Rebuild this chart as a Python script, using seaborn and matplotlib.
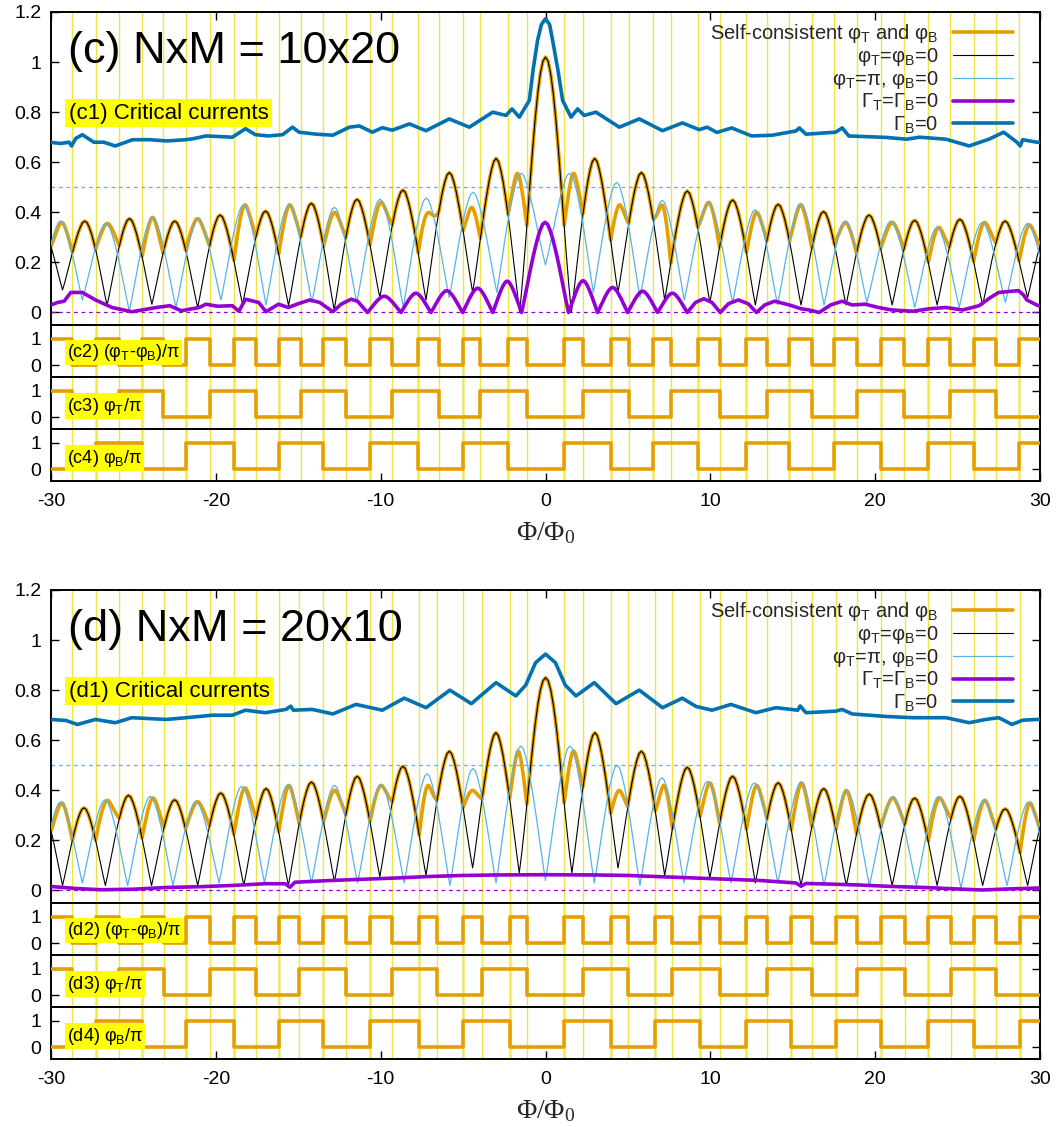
import numpy as np
import matplotlib
matplotlib.use("Agg")
import matplotlib.pyplot as plt
from matplotlib.lines import Line2D
import seaborn as sns

# ====================== DATA ======================
x_limits = [-30, 30]
ytick_main = [0, 0.2, 0.4, 0.6, 0.8, 1.0, 1.2]
ytick_main_labels = ["0", "0.2", "0.4", "0.6", "0.8", "1", "1.2"]
xtick_vals = [-30, -20, -10, 0, 10, 20, 30]
xtick_labels = ["-30", "-20", "-10", "0", "10", "20", "30"]

# shape of a side lobe and of the central lobe (relative height across one lobe)
lobe_profile = [0.0, 0.12, 0.25, 0.38, 0.51, 0.63, 0.74, 0.84, 0.92, 0.98, 1.0,
                0.98, 0.92, 0.84, 0.74, 0.63, 0.51, 0.38, 0.25, 0.12, 0.0]
center_profile = [0.0, 0.109, 0.234, 0.368, 0.505, 0.637, 0.757, 0.858, 0.935, 0.984, 1.0,
                  0.984, 0.935, 0.858, 0.757, 0.637, 0.505, 0.368, 0.234, 0.109, 0.0]

# ---------- panel (c) NxM = 10x20 ----------
c_black_zeros = [-32.05, -29.3, -26.6, -23.88, -21.1, -18.38, -15.59, -12.82, -10.05, -7.25, -4.42, -1.57,
                 1.57, 4.4, 7.23, 9.97, 12.73, 15.5, 18.23, 21.03, 23.76, 26.52, 29.25, 32.0]
c_black_peaks = [0.36, 0.365, 0.375, 0.365, 0.389, 0.405, 0.436, 0.452, 0.489, 0.559, 0.615, 1.02,
                 0.615, 0.559, 0.485, 0.449, 0.432, 0.403, 0.389, 0.368, 0.372, 0.365, 0.36]
c_black_mins = [0.1, 0.09, 0.028, 0.033, 0.02, 0.033, 0.028, 0.01, 0.06, 0.05, 0.08, 0.0,
                0.0, 0.08, 0.05, 0.04, 0.03, 0.03, 0.03, 0.03, 0.03, 0.03, 0.06, 0.1]

c_blue_zeros = [-30.75, -28.1, -25.25, -22.42, -19.69, -16.96, -14.17, -11.45, -8.63, -5.84, -2.95, 0.0,
                2.9, 5.73, 8.42, 11.35, 14.08, 16.9, 19.5, 22.4, 25.1, 27.9, 30.6]
c_blue_peaks = [0.365, 0.356, 0.382, 0.373, 0.43, 0.43, 0.42, 0.453, 0.457, 0.48, 0.556,
                0.556, 0.519, 0.448, 0.44, 0.41, 0.436, 0.365, 0.365, 0.34, 0.36, 0.356]
c_blue_mins = [0.05, 0.05, 0.005, 0.02, 0.05, 0.03, 0.04, 0.04, 0.02, 0.06, 0.08, 0.19,
               0.08, 0.06, 0.05, 0.04, 0.03, 0.03, 0.04, 0.02, 0.02, 0.04, 0.05]

# self-consistent curve: peak of each (phiT-phiB)=pi segment
c_orange_pi_peaks = [0.36, 0.356, 0.38, 0.375, 0.43, 0.43, 0.40, 0.44, 0.40, 0.42, 0.556,
                     0.556, 0.43, 0.43, 0.44, 0.40, 0.43, 0.36, 0.36, 0.34, 0.36, 0.35]

c_purple_left_x = [-30, -29.6, -29.2, -28.8, -28.1, -27.3, -26.3, -25.1, -23.6, -22.8, -22.1, -21.0, -20.6,
                   -19.9, -19.0, -18.6, -18.2, -17.4, -16.96, -16.2, -15.6, -15.0, -14.3, -13.7, -12.9,
                   -12.4, -11.8, -11.4]
c_purple_left_y = [0.03, 0.04, 0.045, 0.08, 0.08, 0.05, 0.02, 0.003, 0.02, 0.027, 0.007, 0.02, 0.033,
                   0.025, 0.027, 0.005, 0.053, 0.04, 0.003, 0.033, 0.02, 0.035, 0.05, 0.04, 0.003,
                   0.033, 0.053, 0.045]
c_purple_mid_zeros = [-10.8, -8.77, -6.95, -5.03, -3.2, -1.45, 1.4, 3.16, 4.98, 6.8, 8.6]
c_purple_mid_peaks = [0.065, 0.077, 0.087, 0.097, 0.125, 0.36, 0.127, 0.1, 0.085, 0.077]
c_purple_right_x = [9.1, 9.6, 10.1, 10.6, 11.1, 11.7, 12.3, 12.8, 13.3, 13.9, 14.8, 15.5, 16.0, 16.6,
                    17.3, 18.0, 18.6, 19.4, 20.2, 21.0, 22.3, 23.3, 24.3, 25.3, 26.3, 27.0, 27.5, 28.3,
                    28.7, 29.0, 29.2, 29.8, 30.0]
c_purple_right_y = [0.04, 0.055, 0.04, 0.0, 0.035, 0.05, 0.035, 0.0, 0.03, 0.045, 0.03, 0.015, 0.01, 0.0,
                    0.03, 0.045, 0.03, 0.033, 0.02, 0.01, 0.005, 0.015, 0.02, 0.01, 0.027, 0.06, 0.08, 0.085,
                    0.087, 0.07, 0.05, 0.03, 0.025]

c_gb_x = [-30, -29.4, -28.9, -28.75, -28.5, -28.1, -27.4, -26.8, -26.1, -25.05, -24.0, -23.0, -21.8, -21.3,
          -20.6, -19.0, -18.2, -17.6, -16.8, -15.95, -15.35, -14.95, -13.9, -12.9, -11.9, -11.3, -10.5,
          -9.9, -9.3, -8.26, -7.25, -5.84, -4.62, -3.2, -2.4, -2.03, -1.59, -0.98, -0.75, -0.48, -0.25, 0,
          0.25, 0.43, 0.75, 1.04, 1.55, 1.95, 2.35, 3.06, 4.48, 5.69, 7.1, 8.3, 9.33, 9.8, 10.4, 11.3,
          12.5, 13.76, 15.2, 15.4, 15.8, 17.6, 18.0, 18.4, 20.7, 21.9, 22.7, 24.3, 25.7, 26.9, 27.8, 28.6,
          28.8, 28.95, 29.8, 30]
c_gb_y = [0.679, 0.675, 0.68, 0.665, 0.695, 0.71, 0.68, 0.68, 0.665, 0.69, 0.69, 0.685, 0.69, 0.695,
          0.705, 0.70, 0.734, 0.71, 0.705, 0.71, 0.74, 0.72, 0.712, 0.708, 0.74, 0.745, 0.72,
          0.738, 0.728, 0.753, 0.726, 0.773, 0.74, 0.8, 0.787, 0.813, 0.78, 0.847, 0.97, 1.087, 1.15, 1.173,
          1.15, 1.087, 0.97, 0.847, 0.78, 0.813, 0.787, 0.8, 0.74, 0.773, 0.726, 0.757, 0.73, 0.74, 0.719,
          0.737, 0.705, 0.708, 0.725, 0.737, 0.712, 0.72, 0.737, 0.705, 0.699, 0.692, 0.70, 0.692, 0.665,
          0.692, 0.72, 0.68, 0.665, 0.69, 0.68, 0.68]

c_phiT_start = 1
c_phiT_switch = [-28.7, -25.85, -23.2, -20.38, -17.55, -14.83, -12.11, -9.29, -6.46, -3.95, -1.13,
                 2.28, 5.05, 7.6, 10.56, 13.44, 16.16, 18.87, 21.75, 24.51, 27.33]
c_phiB_start = 0
c_phiB_switch = [-27.3, -24.48, -21.84, -18.91, -16.19, -13.47, -10.65, -7.72, -5.0, -2.28,
                 1.13, 3.95, 6.51, 9.23, 12.19, 14.80, 17.52, 20.33, 23.22, 25.97, 28.73]
c_diff_start = 1

# ---------- panel (d) NxM = 20x10 ----------
d_black_zeros = [-32.05, -29.3, -26.7, -23.9, -21.1, -18.3, -15.6, -12.8, -10.05, -7.25, -4.42, -1.59,
                 1.6, 4.4, 7.23, 9.97, 12.73, 15.5, 18.25, 21.03, 23.76, 26.52, 29.25, 32.0]
d_black_peaks = [0.35, 0.33, 0.38, 0.362, 0.389, 0.407, 0.433, 0.456, 0.496, 0.556, 0.63, 0.85,
                 0.63, 0.556, 0.492, 0.456, 0.43, 0.407, 0.385, 0.369, 0.376, 0.326, 0.35]
d_black_mins = [0.1, 0.02, 0.02, 0.02, 0.02, 0.02, 0.02, 0.035, 0.055, 0.06, 0.09, 0.07,
                0.07, 0.09, 0.06, 0.05, 0.03, 0.02, 0.02, 0.02, 0.02, 0.02, 0.02, 0.1]

d_blue_zeros = [-30.75, -28.1, -25.35, -22.6, -19.8, -17.05, -14.2, -11.4, -8.57, -5.8, -3.0, 0.0,
                2.96, 5.73, 8.4, 11.25, 14.1, 16.9, 19.65, 22.5, 25.2, 28.0, 30.6]
d_blue_peaks = [0.353, 0.362, 0.376, 0.356, 0.416, 0.423, 0.42, 0.423, 0.466, 0.487, 0.577,
                0.577, 0.5, 0.45, 0.436, 0.43, 0.433, 0.402, 0.376, 0.376, 0.362, 0.353]
d_blue_mins = [0.03, 0.03, 0.02, 0.02, 0.03, 0.03, 0.03, 0.03, 0.03, 0.02, 0.03, 0.04,
               0.03, 0.02, 0.03, 0.03, 0.03, 0.02, 0.02, 0.02, 0.01, 0.02, 0.03]

d_orange_pi_peaks = [0.35, 0.36, 0.37, 0.355, 0.41, 0.42, 0.40, 0.42, 0.42, 0.40, 0.557,
                     0.557, 0.40, 0.42, 0.43, 0.42, 0.43, 0.40, 0.37, 0.37, 0.36, 0.35]

d_purple_x = [-30, -28.5, -27, -25, -23, -21, -19, -17, -15.8, -15.5, -15.2, -13, -11, -9, -7, -5, -3, 0,
              3, 5, 7, 9, 11, 13, 15.2, 15.5, 15.8, 17, 19, 21, 23, 25, 26.5, 28, 30]
d_purple_y = [0.016, 0.008, 0.003, 0.005, 0.012, 0.015, 0.02, 0.027, 0.027, 0.013, 0.033, 0.04, 0.045,
              0.05, 0.056, 0.06, 0.062, 0.063, 0.062, 0.06, 0.055, 0.05, 0.045, 0.04, 0.03, 0.017, 0.028,
              0.026, 0.022, 0.016, 0.012, 0.006, 0.002, 0.006, 0.01]

d_gb_x = [-30, -29.1, -28.4, -27.3, -26.1, -25.1, -23.0, -21.8, -20.2, -19.0, -18.2, -17.0, -15.75, -15.45,
          -15.3, -14.15, -12.9, -11.5, -9.9, -8.57, -7.25, -5.8, -4.5, -3.0, -1.8, -1.2, -0.6, 0, 0.6, 1.2,
          1.85, 2.96, 4.28, 5.69, 7.1, 8.3, 9.13, 10.1, 11.25, 12.77, 13.98, 15.3, 15.45, 15.8, 17.6, 18.0,
          18.6, 20.65, 22.25, 24.3, 25.7, 26.7, 27.5, 28.3, 28.95, 29.8, 30]
d_gb_y = [0.683, 0.679, 0.663, 0.683, 0.67, 0.69, 0.683, 0.69, 0.70, 0.70, 0.72, 0.71, 0.723, 0.736,
          0.72, 0.723, 0.705, 0.743, 0.72, 0.768, 0.73, 0.80, 0.746, 0.83, 0.777, 0.82, 0.91, 0.944, 0.91,
          0.82, 0.777, 0.83, 0.746, 0.80, 0.73, 0.768, 0.735, 0.72, 0.743, 0.71, 0.73, 0.72, 0.737, 0.71,
          0.716, 0.723, 0.705, 0.695, 0.69, 0.69, 0.67, 0.683, 0.69, 0.663, 0.68, 0.683, 0.683]

d_phiT_start = 1
d_phiT_switch = [-28.7, -25.85, -23.14, -20.38, -17.55, -14.94, -12.11, -9.29, -6.57, -3.85, -1.13,
                 2.28, 4.99, 7.70, 10.56, 13.44, 16.16, 18.87, 21.80, 24.61, 27.33]
d_phiB_start = 0
d_phiB_switch = [-27.3, -24.48, -21.84, -18.91, -16.19, -13.47, -10.65, -7.66, -5.0, -2.18,
                 1.13, 3.95, 6.66, 9.37, 12.19, 14.91, 17.62, 20.33, 23.22, 25.97, 28.79]
d_diff_start = 1

legend_labels = ["Self-consistent φ$_T$ and φ$_B$", "φ$_T$=φ$_B$=0", "φ$_T$=π, φ$_B$=0",
                 "Γ$_T$=Γ$_B$=0", "Γ$_B$=0"]

# ====================== STYLE ======================
ORANGE = "#E69F00"
BLACK = "#000000"
LBLUE = "#56B4E9"
PURPLE = "#9400D3"
DBLUE = "#0072B2"
YELLOW = "#F0E442"
LABEL_BG = "#FFFF00"

sns.set_theme(style="white")
plt.rcParams["font.family"] = ["Liberation Sans", "DejaVu Sans"]
plt.rcParams["mathtext.default"] = "regular"

W, H = 1058, 1127
fig = plt.figure(figsize=(W / 100, H / 100), dpi=100)
LEFT_PX, RIGHT_PX = 51, 1040


def add_ax(top_px, bottom_px):
    return fig.add_axes([LEFT_PX / W, 1 - bottom_px / H, (RIGHT_PX - LEFT_PX) / W, (bottom_px - top_px) / H])


def lobe_curve(zeros, peaks, mins, center_index=None):
    u = np.linspace(0, 1, len(lobe_profile))
    xs, ys = [], []
    for i in range(len(peaks)):
        prof = np.asarray(center_profile if i == center_index else lobe_profile)
        z0, z1 = zeros[i], zeros[i + 1]
        m = mins[i] + (mins[i + 1] - mins[i]) * u
        xs.append(z0 + (z1 - z0) * u[:-1])
        ys.append(m[:-1] + (peaks[i] - m[:-1]) * prof[:-1])
    xs.append(np.array([zeros[-1]]))
    ys.append(np.array([mins[-1]]))
    return np.concatenate(xs), np.concatenate(ys)


def orange_curve(xg, bx, by, diff_sw, diff_start, pi_peaks):
    """Self-consistent curve: black curve where phiT-phiB=0, own arches where it is pi."""
    y = np.interp(xg, bx, by)
    edges = [x_limits[0]] + list(diff_sw) + [x_limits[1]]
    up = np.linspace(0, 1, len(lobe_profile))
    k = 0
    for i in range(len(edges) - 1):
        if (diff_start + i) % 2 == 1:
            a, b = edges[i], edges[i + 1]
            m = (xg >= a) & (xg <= b)
            u = (xg[m] - a) / (b - a)
            va, vb = np.interp(a, bx, by), np.interp(b, bx, by)
            base = va + (vb - va) * u
            prof = np.interp(u, up, lobe_profile)
            y[m] = base + (pi_peaks[k] - base) * prof
            k += 1
    return y


def step_xy(switches, start):
    xs = [x_limits[0]] + list(switches) + [x_limits[1]]
    vals = [(start + i) % 2 for i in range(len(switches) + 1)]
    vals = vals + [vals[-1]]
    return np.array(xs, float), np.array(vals, float)


def style_ax(ax, ylim, yticks, ylabels, xticks_top=False, xticks_bottom=False):
    ax.set_xlim(*x_limits)
    ax.set_ylim(*ylim)
    for s in ax.spines.values():
        s.set_color("black")
        s.set_linewidth(1.4)
    ax.set_yticks(yticks)
    ax.set_yticklabels(ylabels)
    ax.set_xticks(xtick_vals)
    ax.set_xticklabels(xtick_labels)
    ax.tick_params(axis="y", direction="in", length=6, width=1, left=True, right=True,
                   labelleft=True, labelright=False, labelsize=14, pad=7, colors="black")
    ax.tick_params(axis="x", direction="in", length=6, width=1, top=xticks_top, bottom=xticks_bottom,
                   labeltop=False, labelbottom=xticks_bottom, labelsize=14, pad=9, colors="black")
    ax.set_xlabel("")
    ax.set_ylabel("")
    ax.grid(False)


def yellow_lines(ax, sw_a, sw_b, light=False):
    for x in list(sw_a) + list(sw_b):
        ax.axvline(x, color=YELLOW, lw=1.0, zorder=0.5)
    if light:
        for x in sw_b:
            ax.axvline(x, color=YELLOW, lw=2.5, alpha=0.45, zorder=0.4)


def draw_panel(letter, size_txt, top_px, d):
    main_top, main_bot = top_px, top_px + 313
    ax1 = add_ax(main_top, main_bot)
    sub_h = 52
    axs = [add_ax(main_bot + i * sub_h, main_bot + (i + 1) * sub_h) for i in range(3)]

    bx, by = lobe_curve(d["black_zeros"], d["black_peaks"], d["black_mins"], center_index=11)
    ux, uy = lobe_curve(d["blue_zeros"], d["blue_peaks"], d["blue_mins"])
    diff_sw = sorted(list(d["phiT_sw"]) + list(d["phiB_sw"]))
    xg = np.linspace(x_limits[0], x_limits[1], 6001)
    orange = orange_curve(xg, bx, by, diff_sw, d["diff_start"], d["orange_pi"])

    yellow_lines(ax1, d["phiT_sw"], d["phiB_sw"])
    ax1.axhline(0.5, color=LBLUE, lw=0.9, ls=(0, (3, 3)), zorder=1)
    ax1.axhline(0.0, color=PURPLE, lw=0.9, ls=(0, (3, 3)), zorder=1)

    sns.lineplot(x=xg, y=orange, ax=ax1, color=ORANGE, lw=2.6, estimator=None, sort=False, zorder=3)
    sns.lineplot(x=bx, y=by, ax=ax1, color=BLACK, lw=0.8, estimator=None, sort=False, zorder=4)
    sns.lineplot(x=ux, y=uy, ax=ax1, color=LBLUE, lw=0.9, estimator=None, sort=False, zorder=4)
    sns.lineplot(x=d["purple_x"], y=d["purple_y"], ax=ax1, color=PURPLE, lw=2.6,
                 estimator=None, sort=False, zorder=5)
    sns.lineplot(x=d["gb_x"], y=d["gb_y"], ax=ax1, color=DBLUE, lw=2.6, estimator=None, sort=False, zorder=6)

    style_ax(ax1, (-0.05, 1.2), ytick_main, ytick_main_labels, xticks_top=True)
    ax1.text(0.017, 0.875, f"({letter}) NxM = {size_txt}", transform=ax1.transAxes, fontsize=32.5,
             va="center", ha="left", color="black", zorder=10)
    ax1.text(0.018, 0.677, f"({letter}1) Critical currents", transform=ax1.transAxes, fontsize=16,
             va="center", ha="left", color="black", zorder=10,
             bbox=dict(facecolor=LABEL_BG, edgecolor="none", pad=2.5))

    handles = [Line2D([], [], color=ORANGE, lw=2.6), Line2D([], [], color=BLACK, lw=0.8),
               Line2D([], [], color=LBLUE, lw=0.9), Line2D([], [], color=PURPLE, lw=2.6),
               Line2D([], [], color=DBLUE, lw=2.6)]
    leg = ax1.legend(handles, legend_labels, loc="upper right", bbox_to_anchor=(0.973, 0.968),
                     frameon=False, markerfirst=False, fontsize=14.5, handlelength=3.0,
                     handletextpad=0.7, labelspacing=0.05, borderaxespad=0, borderpad=0)
    leg.set_zorder(10)

    step_sets = [(diff_sw, d["diff_start"], f"({letter}2) (φ$_T$-φ$_B$)/π", 0.47),
                 (d["phiT_sw"], d["phiT_start"], f"({letter}3) φ$_T$/π", 0.44),
                 (d["phiB_sw"], d["phiB_start"], f"({letter}4) φ$_B$/π", 0.44)]
    for i, (ax, (sw, s0, lab, ly)) in enumerate(zip(axs, step_sets)):
        yellow_lines(ax, d["phiT_sw"], d["phiB_sw"], light=True)
        sx, sy = step_xy(sw, s0)
        sns.lineplot(x=sx, y=sy, ax=ax, color=ORANGE, lw=2.6, estimator=None, sort=False,
                     drawstyle="steps-post", zorder=3)
        style_ax(ax, (-0.45, 1.52), [0, 1], ["0", "1"], xticks_bottom=(i == 2))
        ax.text(0.016, ly, lab, transform=ax.transAxes, fontsize=13, va="center", ha="left",
                color="black", zorder=10, bbox=dict(facecolor=LABEL_BG, edgecolor="none", pad=1.5))
    axs[2].set_xlabel("Φ/Φ$_0$", fontsize=20, family=["Liberation Serif", "DejaVu Serif"], labelpad=7)
    return ax1, axs


panel_c = dict(black_zeros=c_black_zeros, black_peaks=c_black_peaks, black_mins=c_black_mins,
               blue_zeros=c_blue_zeros, blue_peaks=c_blue_peaks, blue_mins=c_blue_mins,
               orange_pi=c_orange_pi_peaks, gb_x=c_gb_x, gb_y=c_gb_y,
               phiT_sw=c_phiT_switch, phiT_start=c_phiT_start,
               phiB_sw=c_phiB_switch, phiB_start=c_phiB_start, diff_start=c_diff_start)
pm_x, pm_y = lobe_curve(c_purple_mid_zeros, c_purple_mid_peaks, [0.0] * len(c_purple_mid_zeros))
panel_c["purple_x"] = np.concatenate([c_purple_left_x, pm_x, c_purple_right_x])
panel_c["purple_y"] = np.concatenate([c_purple_left_y, pm_y, c_purple_right_y])

panel_d = dict(black_zeros=d_black_zeros, black_peaks=d_black_peaks, black_mins=d_black_mins,
               blue_zeros=d_blue_zeros, blue_peaks=d_blue_peaks, blue_mins=d_blue_mins,
               orange_pi=d_orange_pi_peaks, purple_x=d_purple_x, purple_y=d_purple_y, gb_x=d_gb_x, gb_y=d_gb_y,
               phiT_sw=d_phiT_switch, phiT_start=d_phiT_start,
               phiB_sw=d_phiB_switch, phiB_start=d_phiB_start, diff_start=d_diff_start)

draw_panel("c", "10x20", 12, panel_c)
draw_panel("d", "20x10", 590, panel_d)

fig.savefig("out.png", dpi=100)
